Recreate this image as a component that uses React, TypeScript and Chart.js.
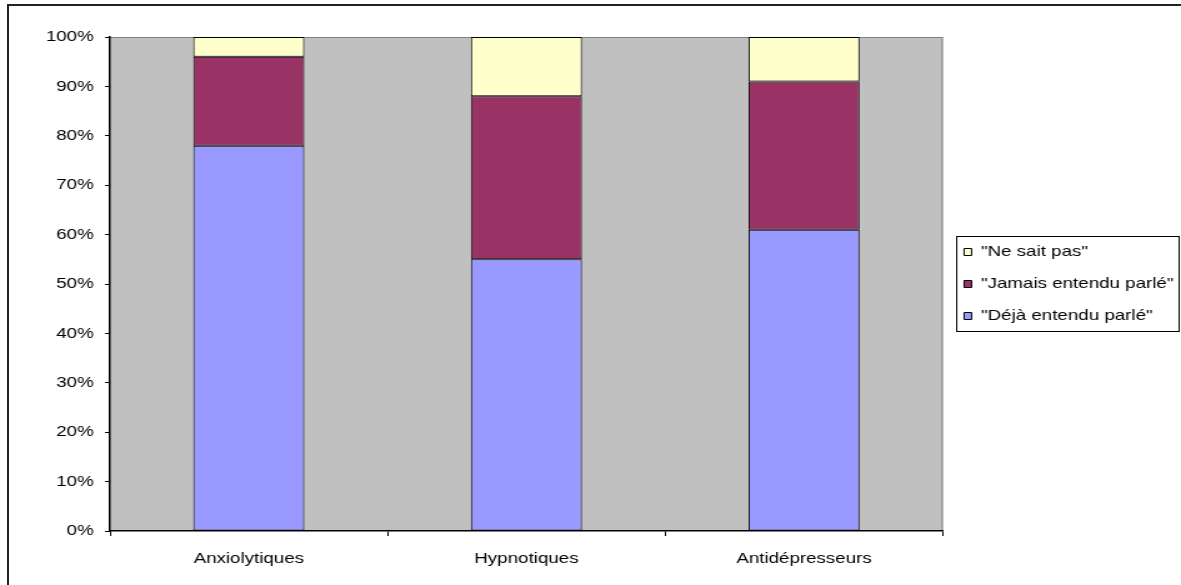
import React, { useEffect, useRef } from 'react';
import { Chart, registerables } from 'chart.js';

Chart.register(...registerables);

// ---- data ----
const categories = ['Anxiolytiques', 'Hypnotiques', 'Antidépresseurs'];
const dejaEntendu = [78, 55, 61];
const jamaisEntendu = [18, 33, 30];
const neSaitPas = [4, 12, 9];
const seriesLabels = ['"Déjà entendu parlé"', '"Jamais entendu parlé"', '"Ne sait pas"'];
const seriesColors = ['#9999FF', '#993366', '#FFFFCC'];
const yTickValues = [0, 10, 20, 30, 40, 50, 60, 70, 80, 90, 100];

// ---- geometry (the original picture is stretched horizontally) ----
const PAGE_W = 1181;
const PAGE_H = 585;
const STRETCH = 1.25;
const CANVAS_W = Math.round(PAGE_W / STRETCH);
const FONT = { family: '"Liberation Sans", Arial, sans-serif', size: 15 };

const plotBg = {
  id: 'plotBg',
  beforeDraw(chart: any) {
    const { ctx, chartArea: a } = chart;
    ctx.save();
    ctx.fillStyle = '#C0C0C0';
    ctx.fillRect(a.left, a.top, a.right - a.left, a.bottom - a.top);
    ctx.strokeStyle = '#808080';
    ctx.lineWidth = 1;
    ctx.beginPath();
    ctx.moveTo(a.left, Math.round(a.top) + 0.5);
    ctx.lineTo(a.right, Math.round(a.top) + 0.5);
    ctx.moveTo(a.right - 0.5, a.top);
    ctx.lineTo(a.right - 0.5, a.bottom);
    ctx.stroke();
    ctx.restore();
  },
};

const legendFrame = {
  id: 'legendFrame',
  afterDraw(chart: any) {
    const lg = chart.legend;
    const boxes = lg && lg.legendHitBoxes;
    if (!boxes || !boxes.length) return;
    const top = Math.min(...boxes.map((b: any) => b.top)) - 8.5;
    const bottom = Math.max(...boxes.map((b: any) => b.top + b.height)) + 7.5;
    const left = Math.min(...boxes.map((b: any) => b.left)) - 6;
    const right = chart.width - 2;
    const { ctx } = chart;
    ctx.save();
    ctx.strokeStyle = '#000';
    ctx.lineWidth = 1;
    ctx.strokeRect(Math.round(left) + 0.5, Math.round(top) + 0.5, Math.round(right - left), Math.round(bottom - top));
    ctx.restore();
  },
};

export default function App() {
  const ref = useRef<HTMLCanvasElement | null>(null);

  useEffect(() => {
    if (!ref.current) return;
    Chart.defaults.color = '#000';
    const data = [dejaEntendu, jamaisEntendu, neSaitPas];
    const chart = new Chart(ref.current, {
      type: 'bar',
      data: {
        labels: categories,
        datasets: data.map((d, i) => ({
          label: seriesLabels[i],
          data: d,
          backgroundColor: seriesColors[i],
          borderColor: '#000',
          borderWidth: 1,
          borderSkipped: false,
          categoryPercentage: 0.4,
          barPercentage: 1,
        })),
      },
      options: {
        responsive: false,
        animation: false,
        devicePixelRatio: 1,
        layout: { padding: { top: 37, left: 0, right: -4, bottom: 0 } },
        plugins: {
          tooltip: { enabled: false },
          legend: {
            position: 'right',
            align: 'center',
            fullSize: false,
            reverse: true,
            labels: {
              boxWidth: 6,
              boxHeight: 7,
              padding: 17,
              color: '#000',
              font: FONT,
            },
          },
        },
        scales: {
          x: {
            stacked: true,
            offset: true,
            grid: {
              display: true,
              offset: true,
              drawOnChartArea: false,
              drawTicks: true,
              tickLength: 5,
              color: '#000',
            },
            border: { display: true, color: '#000', width: 1.5 },
            ticks: { font: FONT, color: '#000', padding: 14, maxRotation: 0, autoSkip: false },
            afterFit: (s: any) => {
              s.height = 54;
            },
          },
          y: {
            stacked: true,
            min: 0,
            max: 100,
            grid: {
              display: true,
              drawOnChartArea: false,
              drawTicks: true,
              tickLength: 4,
              color: '#000',
            },
            border: { display: true, color: '#000', width: 1.5 },
            afterBuildTicks: (s: any) => {
              s.ticks = yTickValues.map((v) => ({ value: v }));
            },
            ticks: {
              font: FONT,
              color: '#000',
              padding: 9,
              callback: (v: any) => `${v}%`,
            },
            afterFit: (s: any) => {
              s.width = 88;
            },
          },
        },
      },
      plugins: [plotBg, legendFrame],
    });
    return () => chart.destroy();
  }, []);

  return (
    <div
      style={{
        position: 'fixed',
        left: 0,
        top: 0,
        width: PAGE_W,
        height: PAGE_H,
        overflow: 'hidden',
        background: '#fff',
      }}
    >
      <div
        style={{
          position: 'absolute',
          left: 7,
          top: 4,
          width: 1400,
          height: 800,
          border: '2px solid #222',
        }}
      />
      <canvas
        ref={ref}
        width={CANVAS_W}
        height={PAGE_H}
        style={{ position: 'absolute', left: 0, top: 0, width: PAGE_W, height: PAGE_H }}
      />
    </div>
  );
}
